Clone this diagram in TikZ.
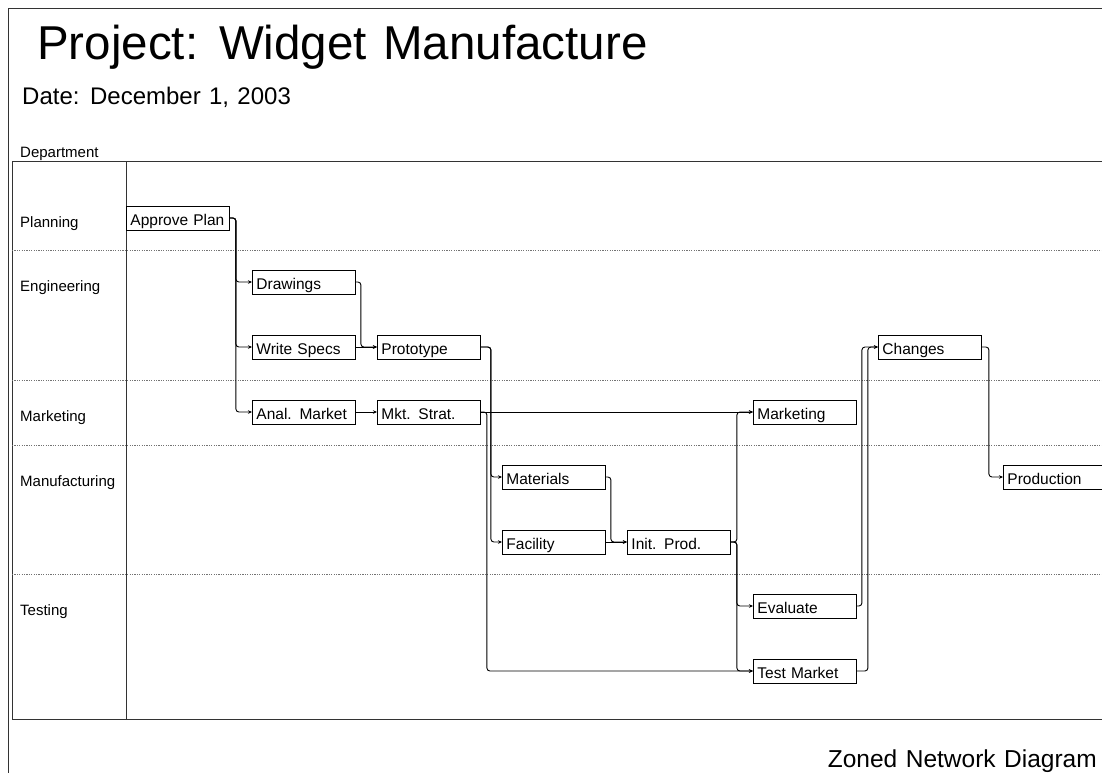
\documentclass[tikz,border=0pt]{standalone}
\usepackage{fontspec}
\setmainfont{Liberation Sans}[WordSpace=1.25]
\usetikzlibrary{arrows.meta}

\begin{document}
\begin{tikzpicture}[x=1pt, y=-1pt, font=\fontsize{15}{18}\selectfont,
  task/.style={draw, line width=0.9pt, anchor=west, minimum width=103pt, minimum height=24pt,
    inner sep=0pt, text width=95pt, align=left, text height=14pt, text depth=0pt,
    font=\fontsize{15.5}{18}\selectfont},
  link/.style={line width=0.9pt, rounded corners=3pt, -{Stealth[length=4pt, width=3.5pt]}},
  zone/.style={black!55, line width=0.6pt, dash pattern=on 1.2pt off 1.2pt},
  lbl/.style={anchor=base west, inner sep=0pt}]
  \useasboundingbox (0,0) rectangle (1102,772);
  \clip (0,0) rectangle (1102,772);
  % frame and zones
  \draw[line width=0.9pt, black!80] (8,780) -- (8,8) -- (1110,8);
  \draw[line width=0.9pt, black!80] (12,161) rectangle (1110,719);
  \draw[line width=0.9pt, black!80] (126,161) -- (126,719);
  \foreach \y in {250,380,445,574} \draw[zone] (12,\y) -- (1110,\y);
  % titles
  \node[lbl] (title) at (37,59) {\fontsize{47.5}{52}\selectfont Project: Widget Manufacture};
  \node[lbl] (date) at (22,104) {\fontsize{24}{27}\selectfont Date: December 1, 2003};
  \node[lbl] (dept) at (20,157) {Department};
  \node[anchor=base east, inner sep=0pt] (foot) at (1097,767) {\fontsize{24.5}{28}\selectfont Zoned Network Diagram};
  \node[lbl] (zplan) at (20,227) {Planning};
  \node[lbl] (zeng) at (20,291) {Engineering};
  \node[lbl] (zmkt) at (20,421) {Marketing};
  \node[lbl] (zmfg) at (20,486) {Manufacturing};
  \node[lbl] (ztest) at (20,615) {Testing};
  % activities
  \node[task] (approve) at (126,218) {Approve Plan};
  \node[task] (drawings) at (252,282) {Drawings};
  \node[task] (specs) at (252,347) {Write Specs};
  \node[task] (anal) at (252,412) {Anal. Market};
  \node[task] (proto) at (377,347) {Prototype};
  \node[task] (strat) at (377,412) {Mkt. Strat.};
  \node[task] (materials) at (502,477) {Materials};
  \node[task] (facility) at (502,542) {Facility};
  \node[task] (initprod) at (627,542) {Init. Prod.};
  \node[task] (marketing) at (753,412) {Marketing};
  \node[task] (evaluate) at (753,606) {Evaluate};
  \node[task] (testmkt) at (753,671) {Test Market};
  \node[task] (changes) at (878,347) {Changes};
  \node[task] (production) at (1003,477) {Production};
  % precedence
  \draw[link] (approve.east) -- ++(6,0) |- (drawings.west);
  \draw[link] (approve.east) -- ++(6,0) |- (specs.west);
  \draw[link] (approve.east) -- ++(6,0) |- (anal.west);
  \draw[link] (drawings.east) -- ++(5,0) |- (proto.west);
  \draw[link] (specs.east) -- (proto.west);
  \draw[link] (anal.east) -- (strat.west);
  \draw[link] (proto.east) -- ++(10,0) |- (materials.west);
  \draw[link] (proto.east) -- ++(10,0) |- (facility.west);
  \draw[link] (strat.east) -- (marketing.west);
  \draw[link] (strat.east) -- ++(6,0) |- (testmkt.west);
  \draw[link] (materials.east) -- ++(5,0) |- (initprod.west);
  \draw[link] (facility.east) -- (initprod.west);
  \draw[link] (initprod.east) -- ++(6,0) |- (marketing.west);
  \draw[link] (initprod.east) -- ++(6,0) |- (evaluate.west);
  \draw[link] (initprod.east) -- ++(6,0) |- (testmkt.west);
  \draw[link] (evaluate.east) -- ++(5,0) |- (changes.west);
  \draw[link] (testmkt.east) -- ++(11,0) |- (changes.west);
  \draw[link] (changes.east) -- ++(7,0) |- (production.west);
\end{tikzpicture}
\end{document}
